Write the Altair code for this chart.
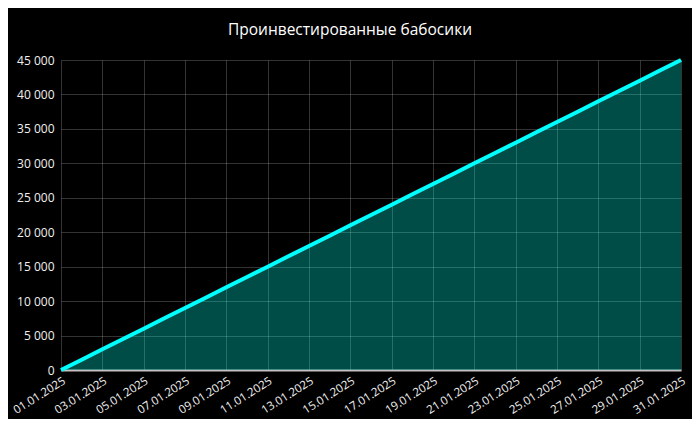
import altair as alt
import pandas as pd

dates = ["01.01.2025", "02.01.2025", "03.01.2025", "04.01.2025", "05.01.2025",
         "06.01.2025", "07.01.2025", "08.01.2025", "09.01.2025", "10.01.2025",
         "11.01.2025", "12.01.2025", "13.01.2025", "14.01.2025", "15.01.2025",
         "16.01.2025", "17.01.2025", "18.01.2025", "19.01.2025", "20.01.2025",
         "21.01.2025", "22.01.2025", "23.01.2025", "24.01.2025", "25.01.2025",
         "26.01.2025", "27.01.2025", "28.01.2025", "29.01.2025", "30.01.2025",
         "31.01.2025"]
invested = [0, 1500, 3000, 4500, 6000, 7500, 9000, 10500, 12000, 13500,
            15000, 16500, 18000, 19500, 21000, 22500, 24000, 25500, 27000, 28500,
            30000, 31500, 33000, 34500, 36000, 37500, 39000, 40500, 42000, 43500,
            45000]
tick_dates = dates[::2]
y_ticks = [0, 5000, 10000, 15000, 20000, 25000, 30000, 35000, 40000, 45000]

df = pd.DataFrame({"date": dates, "value": invested})

font = "Open Sans"

x_enc = alt.X("date:O", sort=dates,
              scale=alt.Scale(type="point", padding=0),
              axis=alt.Axis(values=tick_dates, labelAngle=-32, labelAlign="right",
                            labelBaseline="top", labelColor="#f0f0f0",
                            labelFontSize=11.5, labelFont=font, ticks=False,
                            domain=True, domainColor="#c8c0c0", domainWidth=2,
                            grid=True, gridColor="#ffffff", gridOpacity=0.2,
                            labelPadding=5, title=None))
y_enc = alt.Y("value:Q",
              scale=alt.Scale(domain=[0, 45000], nice=False),
              axis=alt.Axis(values=y_ticks, labelColor="#f0f0f0", labelFontSize=12,
                            labelFont=font, ticks=False, domain=False,
                            grid=True, gridColor="#ffffff", gridOpacity=0.2,
                            labelExpr="replace(format(datum.value, ','), ',', ' ')",
                            labelPadding=7, title=None))

area = alt.Chart(df).mark_area(color="#00ffee", opacity=0.3).encode(x=x_enc, y=y_enc)
line = alt.Chart(df).mark_line(color="#00ffff", strokeWidth=4).encode(x=x_enc, y=y_enc)

chart = (area + line).properties(
    width=620, height=310,
    title=alt.TitleParams("Проинвестированные бабосики", color="#ffffff",
                          fontSize=15.5, font=font, fontWeight="normal",
                          anchor="middle", frame="group", offset=14, dx=-21),
    background="#000000",
    autosize=alt.AutoSizeParams(type="none"),
    padding={"left": 53, "top": 52, "right": 11, "bottom": 49},
).configure_view(stroke=None)

chart.save("out.html", embed_options={"renderer": "svg", "actions": False})
